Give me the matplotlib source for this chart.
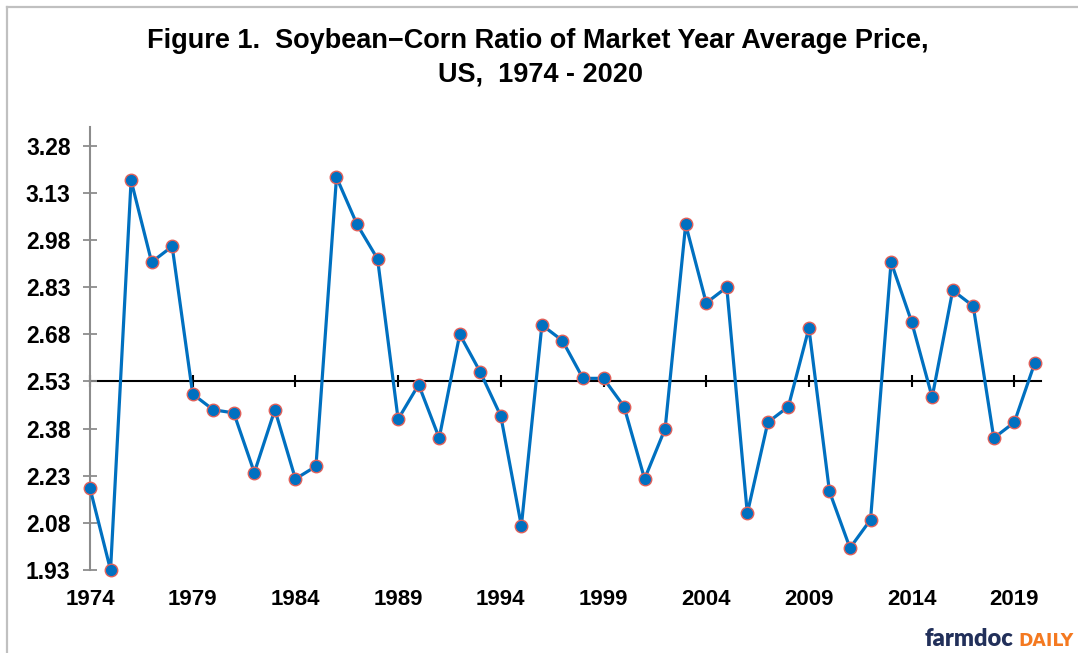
import numpy as np
import matplotlib
matplotlib.use('Agg')
import matplotlib.pyplot as plt
from matplotlib.lines import Line2D

plt.rcParams['font.family'] = ['Liberation Sans', 'DejaVu Sans']

# market years and soybean/corn price ratio
years = list(range(1974, 2021))
ratio = [2.19, 1.93, 3.17, 2.91, 2.96, 2.49, 2.44, 2.43, 2.24, 2.44,
         2.22, 2.26, 3.18, 3.03, 2.92, 2.41, 2.52, 2.35, 2.68, 2.56,
         2.42, 2.07, 2.71, 2.66, 2.54, 2.54, 2.45, 2.22, 2.38, 3.03,
         2.78, 2.83, 2.11, 2.40, 2.45, 2.70, 2.18, 2.00, 2.09, 2.91,
         2.72, 2.48, 2.82, 2.77, 2.35, 2.40, 2.59]
cross_value = 2.53
ytick_vals = [1.93, 2.08, 2.23, 2.38, 2.53, 2.68, 2.83, 2.98, 3.13, 3.28]
xtick_years = [1974, 1979, 1984, 1989, 1994, 1999, 2004, 2009, 2014, 2019]

fig = plt.figure(figsize=(10.78, 6.53), dpi=100)
ax = fig.add_axes([0.0835, 0.1271, 0.8822, 0.6784])

ax.plot(years, ratio, color='#0070C0', lw=2.3, marker='o', markersize=9,
        markerfacecolor='#0070C0', markeredgecolor='#E0605A', markeredgewidth=1.0,
        zorder=3, clip_on=False)

ymin, ymax = 1.93, 3.34
ax.set_ylim(ymin, ymax)
ax.set_xlim(1974, 2020.3)

for s in ['top', 'right', 'bottom']:
    ax.spines[s].set_visible(False)
ax.spines['left'].set_color('#8c8c8c')
ax.spines['left'].set_linewidth(1.5)

ax.set_yticks(ytick_vals)
ax.set_yticklabels(['%.2f' % v for v in ytick_vals])
ax.tick_params(axis='y', direction='inout', length=10, width=1.3, color='#8c8c8c',
               labelsize=16.5, pad=9)
ax.set_xticks(xtick_years)
ax.tick_params(axis='x', length=0, labelsize=16, pad=14)
for lab in ax.get_xticklabels() + ax.get_yticklabels():
    lab.set_fontweight('bold')

# horizontal axis crossing at 2.53
loc = (cross_value - ymin) / (ymax - ymin)
sec = ax.secondary_xaxis(loc)
sec.set_xticks(xtick_years)
sec.set_xticklabels([])
sec.tick_params(direction='inout', length=9, width=1.5, color='black')
sec.spines['bottom'].set_color('black')
sec.spines['bottom'].set_linewidth(1.5)
sec.spines['bottom'].set_bounds(1974, 2020.3)

fig.text(0.499, 1 - 41 / 653, 'Figure 1.  Soybean\u2212Corn Ratio of Market Year Average Price,',
         ha='center', va='center', fontsize=19.5, fontweight='bold')
fig.text(0.501, 1 - 74 / 653, 'US,  1974 - 2020',
         ha='center', va='center', fontsize=19.5, fontweight='bold')

# frame lines (top and left)
fig.add_artist(Line2D([7 / 1078, 1], [1 - 7 / 653, 1 - 7 / 653], transform=fig.transFigure,
                      color='#c0c0c0', lw=1.6))
fig.add_artist(Line2D([7 / 1078, 7 / 1078], [0, 1 - 7 / 653], transform=fig.transFigure,
                      color='#c0c0c0', lw=1.6))

# logo
fig.text(1013 / 1078, 7 / 653, 'farmdoc', ha='right', va='baseline', fontsize=17,
         fontweight='heavy', family=['Lato', 'DejaVu Sans'], color='#22305A')
fig.text(1074 / 1078, 7 / 653, 'DAILY', ha='right', va='baseline', fontsize=12.5,
         fontweight='bold', family=['DejaVu Sans'], color='#F47920')

fig.savefig('out.png', dpi=100)
